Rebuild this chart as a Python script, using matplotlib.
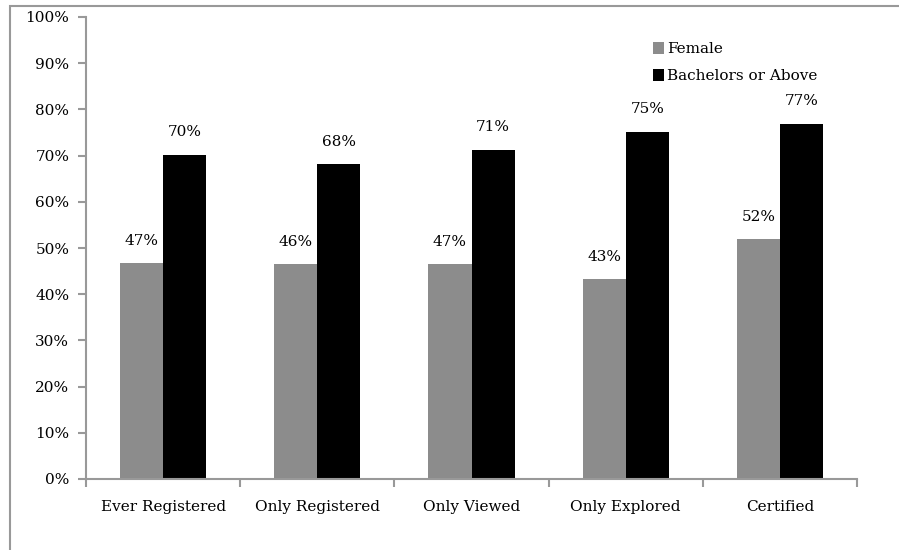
import numpy as np
import matplotlib.pyplot as plt
from matplotlib.patches import Rectangle
from matplotlib.ticker import PercentFormatter

categories = ['Ever Registered', 'Only Registered', 'Only Viewed', 'Only Explored', 'Certified']
female = [46.7, 46.5, 46.5, 43.3, 51.9]
bachelors = [70.2, 68.2, 71.3, 75.2, 76.9]
female_labels = ['47%', '46%', '47%', '43%', '52%']
bach_labels = ['70%', '68%', '71%', '75%', '77%']

plt.rcParams['font.family'] = ['DejaVu Serif']
plt.rcParams['font.size'] = 11

fig = plt.figure(figsize=(8.99, 5.5), dpi=100)
ax = fig.add_axes([86/899, 71/550, (857-86)/899, (479-17)/550])

# outer frame (only left/top visible, like a cropped chart box)
fig.patches.append(Rectangle((10/899, -0.1), 1.2, 1.1 - 6/550,
                             transform=fig.transFigure, fill=False,
                             edgecolor='#999999', linewidth=1.5))

x = np.arange(len(categories))
w = 0.28
ax.bar(x - w/2, female, w, color='#8c8c8c', label='Female')
ax.bar(x + w/2, bachelors, w, color='black', label='Bachelors or Above')

for i in range(len(categories)):
    ax.annotate(female_labels[i], (x[i] - w/2, female[i]), xytext=(0, 16),
                textcoords='offset points', ha='center', va='center')
    ax.annotate(bach_labels[i], (x[i] + w/2, bachelors[i]), xytext=(0, 16),
                textcoords='offset points', ha='center', va='center')

ax.set_xlim(-0.5, len(categories) - 0.5)
ax.set_ylim(0, 100)
ax.set_yticks(np.arange(0, 101, 10))
ax.yaxis.set_major_formatter(PercentFormatter(decimals=0))

ax.set_xticks(np.arange(-0.5, len(categories), 1))
ax.set_xticklabels([])
ax.set_xticks(x, minor=True)
ax.set_xticklabels(categories, minor=True)
ax.tick_params(axis='x', which='minor', length=0, pad=15)
ax.tick_params(axis='x', which='major', length=6, color='#999999', width=1.5)
ax.tick_params(axis='y', length=6, color='#999999', width=1.5, pad=6)

for s in ['top', 'right']:
    ax.spines[s].set_visible(False)
for s in ['left', 'bottom']:
    ax.spines[s].set_color('#999999')
    ax.spines[s].set_linewidth(1.5)

ax.legend(loc='upper left', bbox_to_anchor=(0.717, 0.975), frameon=False,
          handlelength=0.75, handleheight=0.75, handletextpad=0.2,
          labelspacing=0.85)

fig.savefig('out.png', dpi=100)
